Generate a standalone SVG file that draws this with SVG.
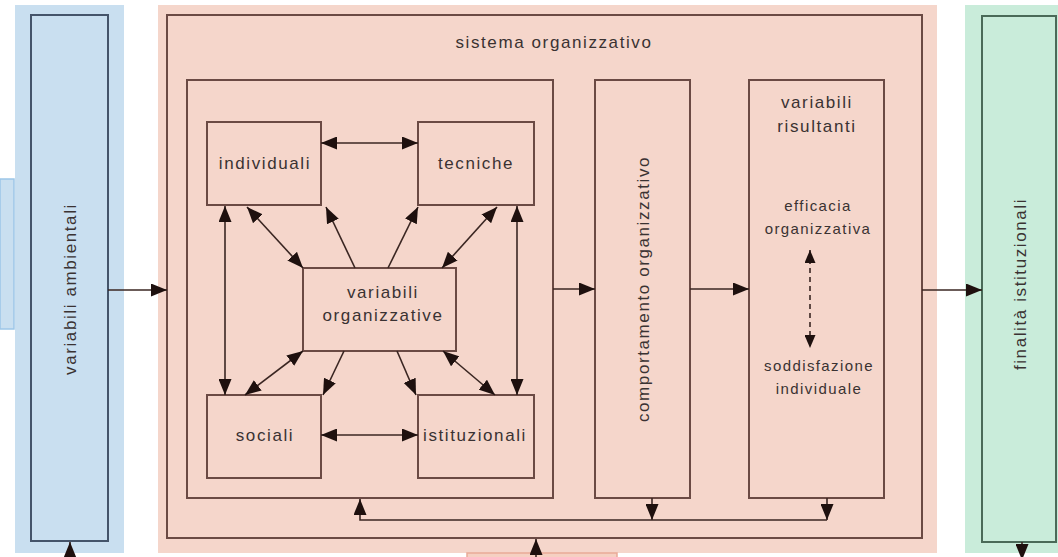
<svg xmlns="http://www.w3.org/2000/svg" width="1058" height="557" viewBox="0 0 1058 557">
<defs>
<style>
.t{font-family:"Liberation Sans",Arial,sans-serif;font-size:17px;fill:#3a3232;letter-spacing:1.6px;text-anchor:middle;dominant-baseline:central}
.s{font-size:15px;letter-spacing:1.4px}
.bx{fill:none;stroke:#6b4a44;stroke-width:2}
.ln{fill:none;stroke:#3a2622;stroke-width:1.6}
</style>
<marker id="ah" markerUnits="userSpaceOnUse" markerWidth="16" markerHeight="13" refX="16" refY="6.5" orient="auto-start-reverse" viewBox="0 0 16 13">
<path d="M0,0 L16,6.5 L0,13 z" fill="#1e100e"/>
</marker>
<marker id="ahs" markerUnits="userSpaceOnUse" markerWidth="13" markerHeight="11" refX="13" refY="5.5" orient="auto-start-reverse" viewBox="0 0 13 11">
<path d="M0,0 L13,5.5 L0,11 z" fill="#1e100e"/>
</marker>
</defs>
<rect width="1058" height="557" fill="#ffffff"/>
<rect x="0" y="179" width="14" height="150" fill="#c9dff0" stroke="#9cc6e8" stroke-width="1.5"/>
<rect x="15" y="5" width="109" height="548" fill="#c9dff0"/>
<rect x="158" y="5" width="779" height="548" fill="#f5d6cb"/>
<rect x="965" y="5" width="93" height="548" fill="#c9ecda"/>
<rect x="467" y="553" width="150" height="10" fill="#f5d0c2" stroke="#e9aa98" stroke-width="1.5"/>

<g id="ambientali">
<rect x="31" y="15" width="77" height="526" fill="none" stroke="#44546a" stroke-width="2"/>
<text class="t" transform="translate(70,289) rotate(-90)">variabili ambientali</text>
</g>
<g id="sistema">
<rect class="bx" x="167" y="15" width="755" height="523"/>
<text class="t" x="554" y="42">sistema organizzativo</text>
</g>
<g id="gruppo">
<rect class="bx" x="187" y="80" width="366" height="418"/>
</g>
<g id="individuali">
<rect class="bx" x="207" y="122" width="114" height="83"/>
<text class="t" x="265" y="163">individuali</text>
</g>
<g id="tecniche">
<rect class="bx" x="418" y="122" width="116" height="83"/>
<text class="t" x="476" y="163">tecniche</text>
</g>
<g id="organizzative">
<rect class="bx" x="303" y="268" width="153" height="83"/>
<text class="t" x="383" y="292">variabili</text>
<text class="t" x="383" y="315">organizzative</text>
</g>
<g id="sociali">
<rect class="bx" x="207" y="395" width="114" height="83"/>
<text class="t" x="265" y="435">sociali</text>
</g>
<g id="istituzionali">
<rect class="bx" x="418" y="395" width="116" height="83"/>
<text class="t" x="475" y="435">istituzionali</text>
</g>
<g id="comportamento">
<rect class="bx" x="595" y="80" width="95" height="418"/>
<text class="t" transform="translate(643,289) rotate(-90)">comportamento organizzativo</text>
</g>
<g id="risultanti">
<rect class="bx" x="749" y="80" width="135" height="418"/>
<text class="t" x="817" y="102">variabili</text>
<text class="t" x="817" y="126">risultanti</text>
<text class="t s" x="818" y="205">efficacia</text>
<text class="t s" x="818" y="228">organizzativa</text>
<text class="t s" x="819" y="365">soddisfazione</text>
<text class="t s" x="819" y="388">individuale</text>
</g>
<g id="finalita">
<rect x="982" y="16" width="74" height="526" fill="none" stroke="#4a6a58" stroke-width="2"/>
<text class="t" transform="translate(1020,284) rotate(-90)">finalità istituzionali</text>
</g>

<g id="connectors">
<line class="ln" x1="108" y1="290" x2="167" y2="290" marker-end="url(#ah)" stroke="#44546a"/>
<line class="ln" x1="922" y1="290" x2="982" y2="290" marker-end="url(#ah)"/>
<line class="ln" x1="553" y1="289" x2="595" y2="289" marker-end="url(#ah)"/>
<line class="ln" x1="690" y1="289" x2="749" y2="289" marker-end="url(#ah)"/>

<line class="ln" x1="321" y1="143" x2="418" y2="143" marker-start="url(#ah)" marker-end="url(#ah)"/>
<line class="ln" x1="321" y1="435" x2="418" y2="435" marker-start="url(#ah)" marker-end="url(#ah)"/>
<line class="ln" x1="225" y1="206" x2="225" y2="395" marker-start="url(#ah)" marker-end="url(#ah)"/>
<line class="ln" x1="517" y1="206" x2="517" y2="395" marker-start="url(#ah)" marker-end="url(#ah)"/>

<line class="ln" x1="247" y1="207" x2="303" y2="268" marker-start="url(#ah)" marker-end="url(#ah)"/>
<line class="ln" x1="355" y1="268" x2="326" y2="207" marker-end="url(#ah)"/>
<line class="ln" x1="388" y1="268" x2="418" y2="207" marker-end="url(#ah)"/>
<line class="ln" x1="497" y1="207" x2="442" y2="268" marker-start="url(#ah)" marker-end="url(#ah)"/>

<line class="ln" x1="303" y1="351" x2="245" y2="395" marker-start="url(#ah)" marker-end="url(#ah)"/>
<line class="ln" x1="344" y1="351" x2="323" y2="395" marker-end="url(#ah)"/>
<line class="ln" x1="397" y1="351" x2="416" y2="395" marker-end="url(#ah)"/>
<line class="ln" x1="443" y1="351" x2="495" y2="395" marker-start="url(#ah)" marker-end="url(#ah)"/>

<line class="ln" x1="810" y1="250" x2="810" y2="348" stroke-dasharray="5,4" marker-start="url(#ahs)" marker-end="url(#ahs)"/>

<line class="ln" x1="652" y1="498" x2="652" y2="520" marker-end="url(#ah)"/>
<line class="ln" x1="827" y1="498" x2="827" y2="520" marker-end="url(#ah)"/>
<polyline class="ln" points="827,520 360,520 360,499" marker-end="url(#ah)"/>

<line class="ln" x1="536" y1="560" x2="536" y2="539" marker-end="url(#ah)"/>
<line class="ln" x1="70" y1="560" x2="70" y2="542" marker-end="url(#ah)"/>
<line class="ln" x1="1022" y1="542" x2="1022" y2="560" marker-end="url(#ah)"/>
</g>
</svg>
